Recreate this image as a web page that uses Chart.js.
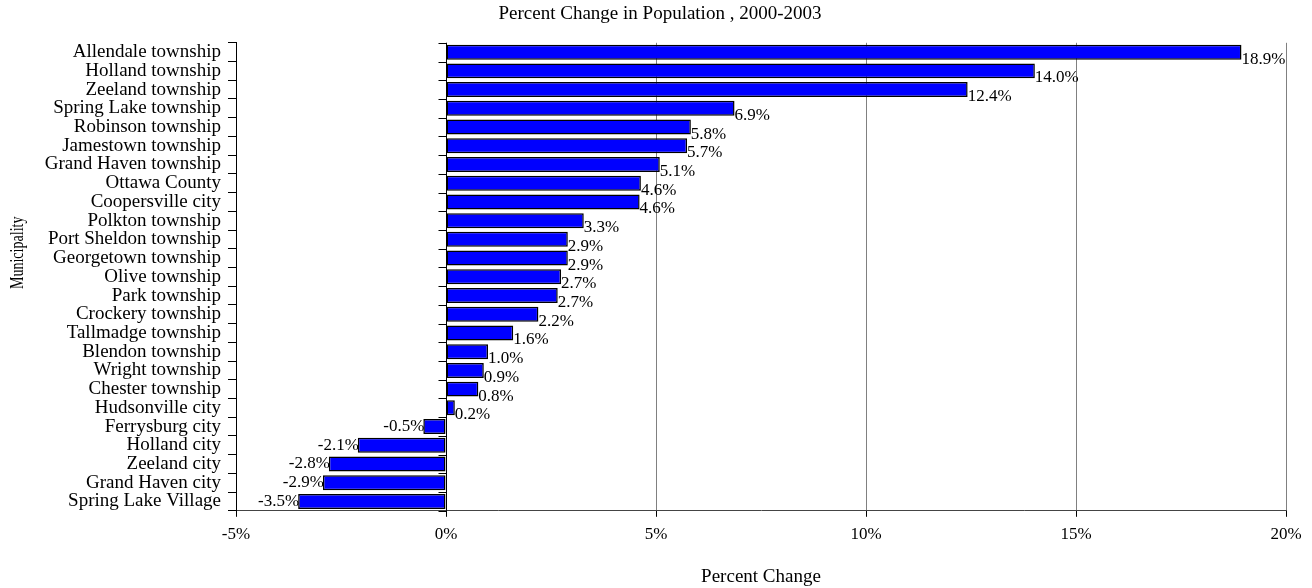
<!DOCTYPE html>
<html>
<head>
<meta charset="utf-8">
<script src="https://cdn.jsdelivr.net/npm/chart.js@4.4.1/dist/chart.umd.min.js"></script>
<style>
  html, body { margin: 0; padding: 0; background: #fff; }
  #wrap { width: 1312px; height: 588px; position: relative; }
</style>
</head>
<body>
<div id="wrap"><canvas id="c" width="1312" height="588"></canvas></div>
<script>
const categories = [
  "Allendale township", "Holland township", "Zeeland township", "Spring Lake township",
  "Robinson township", "Jamestown township", "Grand Haven township", "Ottawa County",
  "Coopersville city", "Polkton township", "Port Sheldon township", "Georgetown township",
  "Olive township", "Park township", "Crockery township", "Tallmadge township",
  "Blendon township", "Wright township", "Chester township", "Hudsonville city",
  "Ferrysburg city", "Holland city", "Zeeland city", "Grand Haven city", "Spring Lake Village"
];
const percentChange = [
  18.94, 14.02, 12.42, 6.87,
  5.83, 5.74, 5.09, 4.64,
  4.61, 3.28, 2.90, 2.90,
  2.74, 2.66, 2.20, 1.60,
  1.00, 0.90, 0.77, 0.21,
  -0.54, -2.10, -2.79, -2.93, -3.52
];
const xTickValues = [-5, 0, 5, 10, 15, 20];
const chartTitle = "Percent Change in Population , 2000-2003";
const xAxisTitle = "Percent Change";
const yAxisTitle = "Municipality";

const FONT = "'Liberation Serif', 'Times New Roman', serif";

const zeroLinePlugin = {
  id: 'zeroLine',
  beforeDatasetsDraw(chart) {
    const {ctx, chartArea, scales} = chart;
    const x0 = Math.round(scales.x.getPixelForValue(0)) + 0.5;
    ctx.save();
    ctx.strokeStyle = '#000';
    ctx.lineWidth = 1;
    ctx.beginPath();
    ctx.moveTo(x0, chartArea.top);
    ctx.lineTo(x0, chartArea.bottom);
    const y = scales.y;
    const n = categories.length;
    for (let i = 0; i <= n; i++) {
      const py = Math.round(y.getPixelForValue(i - 0.5)) + 0.5;
      ctx.moveTo(x0 - 8, py);
      ctx.lineTo(x0, py);
    }
    ctx.stroke();
    ctx.restore();
  }
};

const yTitlePlugin = {
  id: 'yTitle',
  afterDraw(chart) {
    const {ctx, chartArea} = chart;
    ctx.save();
    ctx.translate(18, (chartArea.top + chartArea.bottom) / 2 - 24);
    ctx.rotate(-Math.PI / 2);
    ctx.scale(0.74, 1);
    ctx.font = "19px " + FONT;
    ctx.fillStyle = '#000';
    ctx.textAlign = 'center';
    ctx.textBaseline = 'middle';
    ctx.fillText(yAxisTitle, 0, 0);
    ctx.restore();
  }
};

const labelPlugin = {
  id: 'barLabels',
  afterDatasetsDraw(chart) {
    const {ctx} = chart;
    const meta = chart.getDatasetMeta(0);
    ctx.save();
    ctx.font = "17px " + FONT;
    ctx.fillStyle = '#000';
    ctx.textBaseline = 'middle';
    meta.data.forEach((bar, i) => {
      const v = percentChange[i];
      const txt = v.toFixed(1) + '%';
      if (v >= 0) {
        ctx.textAlign = 'left';
        ctx.fillText(txt, bar.x, bar.y + 7);
      } else {
        ctx.textAlign = 'right';
        ctx.fillText(txt, bar.x + 1, bar.y);
      }
    });
    ctx.restore();
  }
};

new Chart(document.getElementById('c'), {
  type: 'bar',
  data: {
    labels: categories,
    datasets: [{
      data: percentChange,
      backgroundColor: '#0000FF',
      borderColor: '#000000',
      borderWidth: 1.5,
      borderSkipped: false,
      barPercentage: 0.8,
      categoryPercentage: 1.0
    }]
  },
  options: {
    indexAxis: 'y',
    responsive: false,
    animation: false,
    devicePixelRatio: 1,
    layout: { padding: { left: 34, right: 26, top: 0, bottom: 0 } },
    plugins: {
      legend: { display: false },
      tooltip: { enabled: false },
      title: {
        display: true,
        text: chartTitle,
        color: '#000',
        font: { family: FONT, size: 19, weight: 'normal' },
        padding: { top: 3, bottom: 17 }
      }
    },
    scales: {
      x: {
        type: 'linear',
        min: -5,
        max: 20,
        afterBuildTicks(scale) {
          scale.ticks = xTickValues.map(v => ({ value: v }));
        },
        ticks: {
          color: '#000',
          font: { family: FONT, size: 17 },
          padding: 8,
          callback: (v) => v + '%'
        },
        grid: {
          color: '#808080',
          lineWidth: 1,
          drawTicks: true,
          tickLength: 6,
          tickColor: '#000'
        },
        border: { display: true, color: '#444', width: 1 },
        title: {
          display: true,
          text: xAxisTitle,
          color: '#000',
          font: { family: FONT, size: 19 },
          padding: { top: 12, bottom: 0 }
        }
      },
      y: {
        type: 'category',
        afterFit(scale) { scale.width = 202; },
        ticks: {
          color: '#000',
          autoSkip: false,
          font: { family: FONT, size: 19, lineHeight: 1 },
          padding: 7
        },
        grid: {
          offset: true,
          drawOnChartArea: false,
          drawTicks: true,
          tickLength: 8,
          color: '#000'
        },
        border: { display: true, color: '#000', width: 1 },
        title: { display: false }
      }
    }
  },
  plugins: [zeroLinePlugin, labelPlugin, yTitlePlugin]
});
</script>
</body>
</html>
